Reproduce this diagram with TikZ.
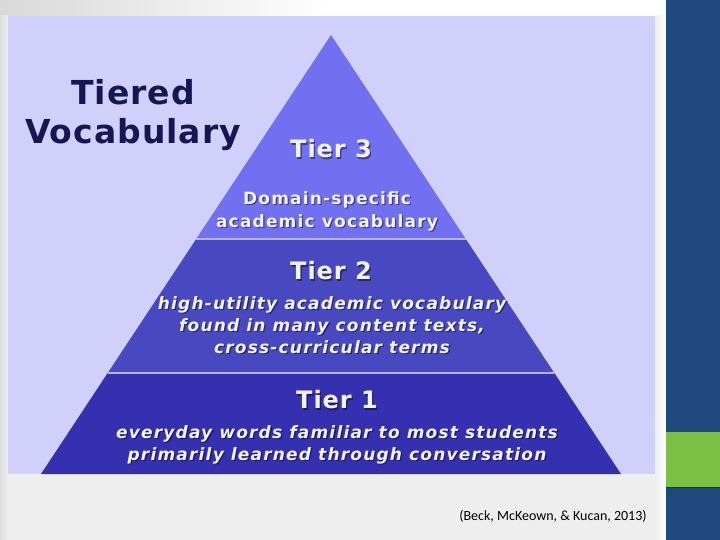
\documentclass[tikz,border=0pt]{standalone}
\usepackage{fontspec}
\setmainfont{DejaVu Sans}
\newfontfamily\citefont{Carlito}
\definecolor{panel}{HTML}{D0D0FA}
\definecolor{tierthree}{HTML}{7070F0}
\definecolor{tiertwo}{HTML}{4848C0}
\definecolor{tierone}{HTML}{3430B0}
\definecolor{sepline}{HTML}{B4B4F0}
\definecolor{titlecol}{HTML}{161652}
\definecolor{tiertext}{HTML}{F2F2FF}
\definecolor{barblue}{HTML}{1F497D}
\definecolor{bargreen}{HTML}{7BBF45}
\definecolor{bggray}{HTML}{EEEEEE}
\tikzset{
  tiertitle/.style={font=\bfseries\fontsize{24}{28}\selectfont\addfontfeature{LetterSpace=4}, text=tiertext},
  tierdesc/.style={font=\bfseries\itshape\fontsize{17}{22}\selectfont\addfontfeature{LetterSpace=7}, text=tiertext, align=center},
  tierdescup/.style={font=\bfseries\fontsize{17}{23}\selectfont\addfontfeature{LetterSpace=7}, text=tiertext, align=center},
  shadowtxt/.style={text=black, opacity=0.45}
}
\newcommand{\shadowed}[4]{% style, name, position, text
  \node[#1, shadowtxt] at ($(#3)+(1.3,1.3)$) {#4};
  \node[#1] (#2) at (#3) {#4};
}
\usetikzlibrary{calc}
\begin{document}
\begin{tikzpicture}[x=1pt,y=-1pt]
\useasboundingbox (0,0) rectangle (720,540);
% background
\fill[bggray] (0,0) rectangle (666,540);
\shade[left color=gray!30, right color=white, middle color=white] (0,0) rectangle (666,16);
\shade[left color=gray!25, right color=bggray] (0,16) rectangle (8,540);
\shade[left color=bggray, right color=white] (655,16) rectangle (666,540);
% panel
\fill[panel] (8,16) rectangle (655,474);
% right bar
\fill[barblue] (666,0) rectangle (720,540);
\fill[bargreen] (666,432) rectangle (720,487);
\draw[barblue!70!black, line width=1.2] (666,487.5) -- (720,487.5);
% pyramid
\coordinate (apex) at (331,35);
\coordinate (l3) at (196.2,239); \coordinate (r3) at (465.8,239);
\coordinate (l2) at (107.7,373); \coordinate (r2) at (554.3,373);
\coordinate (l1) at (41,474);   \coordinate (r1) at (621,474);
\fill[tierthree] (apex) -- (r3) -- (l3) -- cycle;
\fill[tiertwo] (l3) -- (r3) -- (r2) -- (l2) -- cycle;
\fill[tierone] (l2) -- (r2) -- (r1) -- (l1) -- cycle;
\draw[sepline, line width=1.5] (l3) -- (r3);
\draw[sepline, line width=1.5] (l2) -- (r2);
% title
\node[font=\bfseries\fontsize{33}{39}\selectfont\addfontfeature{LetterSpace=3}, text=titlecol, align=center] (title) at (133,115) {Tiered\\Vocabulary};
% tier texts
\shadowed{tiertitle}{t3}{331,149}{Tier 3}
\shadowed{tierdescup}{d3}{327,211}{Domain-specific\\academic vocabulary}
\shadowed{tiertitle}{t2}{331,271}{Tier 2}
\shadowed{tierdesc}{d2}{332,325}{high-utility academic vocabulary\\found in many content texts,\\cross-curricular terms}
\shadowed{tiertitle}{t1}{337,400}{Tier 1}
\shadowed{tierdesc}{d1}{337,445}{everyday words familiar to most students\\primarily learned through conversation}
% citation
\node[font=\citefont\fontsize{14}{16}\selectfont, text=black] (cite) at (553,516) {(Beck, McKeown, \& Kucan, 2013)};
\end{tikzpicture}
\end{document}
